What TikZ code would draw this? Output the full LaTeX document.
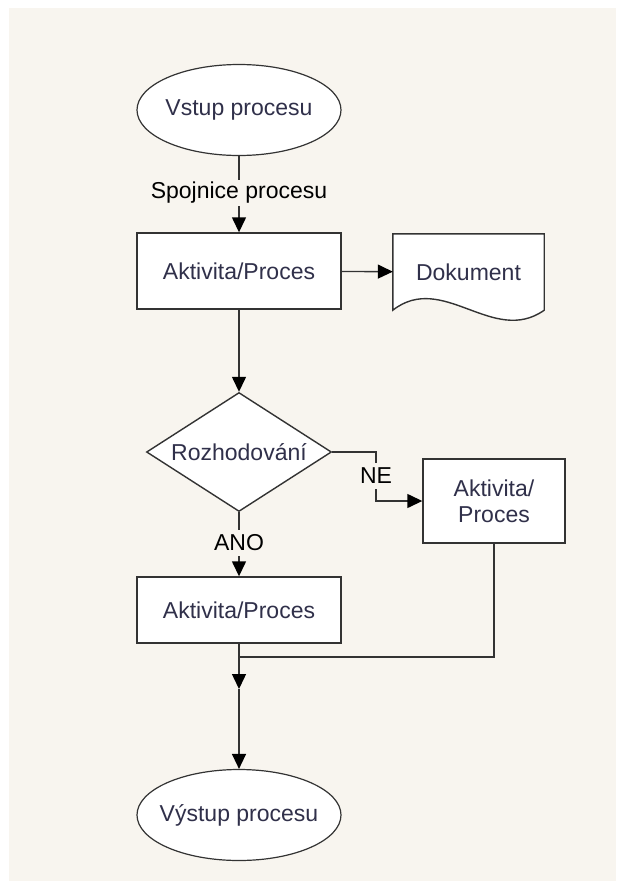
\documentclass[tikz,border=0pt]{standalone}
\usepackage{fontspec}
\setmainfont{Liberation Sans}
\usepackage{tikz}
\usetikzlibrary{shapes.geometric, arrows.meta, backgrounds}

\definecolor{bgbeige}{HTML}{F8F5EF}
\definecolor{linegray}{HTML}{333333}
\definecolor{textnavy}{HTML}{30304A}

\begin{document}
\begin{tikzpicture}[x = 1pt, y = -1pt,
  font = \fontsize{23}{26}\selectfont,
  conn/.style = {draw=linegray, line width=1.4pt},
  arr/.style = {conn, -{Triangle[length=15pt, width=14pt, color=black]}},
  box/.style = {rectangle, draw=linegray, line width=1.4pt, fill=white, text=textnavy, inner sep=0pt},
  terminal/.style = {ellipse, draw=linegray, line width=1.2pt, fill=white, text=textnavy,
    minimum width=204pt, minimum height=91pt, inner xsep=-12pt, inner ysep=0pt},
  decision/.style = {diamond, draw=linegray, line width=1.4pt, fill=white, text=textnavy,
    aspect=1.55, minimum width=185pt, minimum height=119pt, inner sep=0pt},
  lbl/.style = {inner sep=0pt, minimum height=26pt, text=black}]

\useasboundingbox (0, 0) rectangle (616, 881);

\def\mx{239}

\node[terminal] (vstup) at (\mx, 110) {Vstup procesu};
\node[lbl] (spoj) at (\mx, 193) {Spojnice procesu};
\node[box, minimum width=204pt, minimum height=76pt] (akt1) at (\mx, 271) {Aktivita/Proces};
\node[inner sep=0pt, minimum width=151pt, minimum height=76pt, text=textnavy] (dok) at (468.5, 272) {Dokument};
\node[decision] (rozh) at (\mx, 452) {Rozhodování};
\node[lbl] (ne) at (376, 476) {NE};
\node[box, minimum width=142pt, minimum height=84pt, align=center] (akt2) at (494, 501) {Aktivita/\\Proces};
\node[lbl] (ano) at (\mx, 543) {ANO};
\node[box, minimum width=204pt, minimum height=66pt] (akt3) at (\mx, 610) {Aktivita/Proces};
\coordinate (join) at (\mx, 657);
\coordinate (mid) at (\mx, 689);
\node[terminal] (vystup) at (\mx, 815) {Výstup procesu};

\begin{scope}[on background layer]
\fill[bgbeige] (9, 8) rectangle (616, 881);
\draw[conn, fill=white] (dok.south west) -- (dok.north west) -- (dok.north east) -- (dok.south east)
  .. controls +(-51, 36) and +(50, -39) .. (dok.south west) -- cycle;
\end{scope}

\draw[conn] (vstup) -- (spoj);
\draw[arr] (spoj) -- (akt1);
\draw[arr] (akt1) -- (dok);
\draw[arr] (akt1) -- (rozh);
\draw[conn] (rozh.east) -| (ne);
\draw[arr] (ne) |- (akt2);
\draw[conn] (rozh) -- (ano);
\draw[arr] (ano) -- (akt3);
\draw[conn] (akt2) |- (join);
\draw[arr] (akt3) -- (mid);
\draw[arr] (mid) -- (vystup);

\end{tikzpicture}
\end{document}
